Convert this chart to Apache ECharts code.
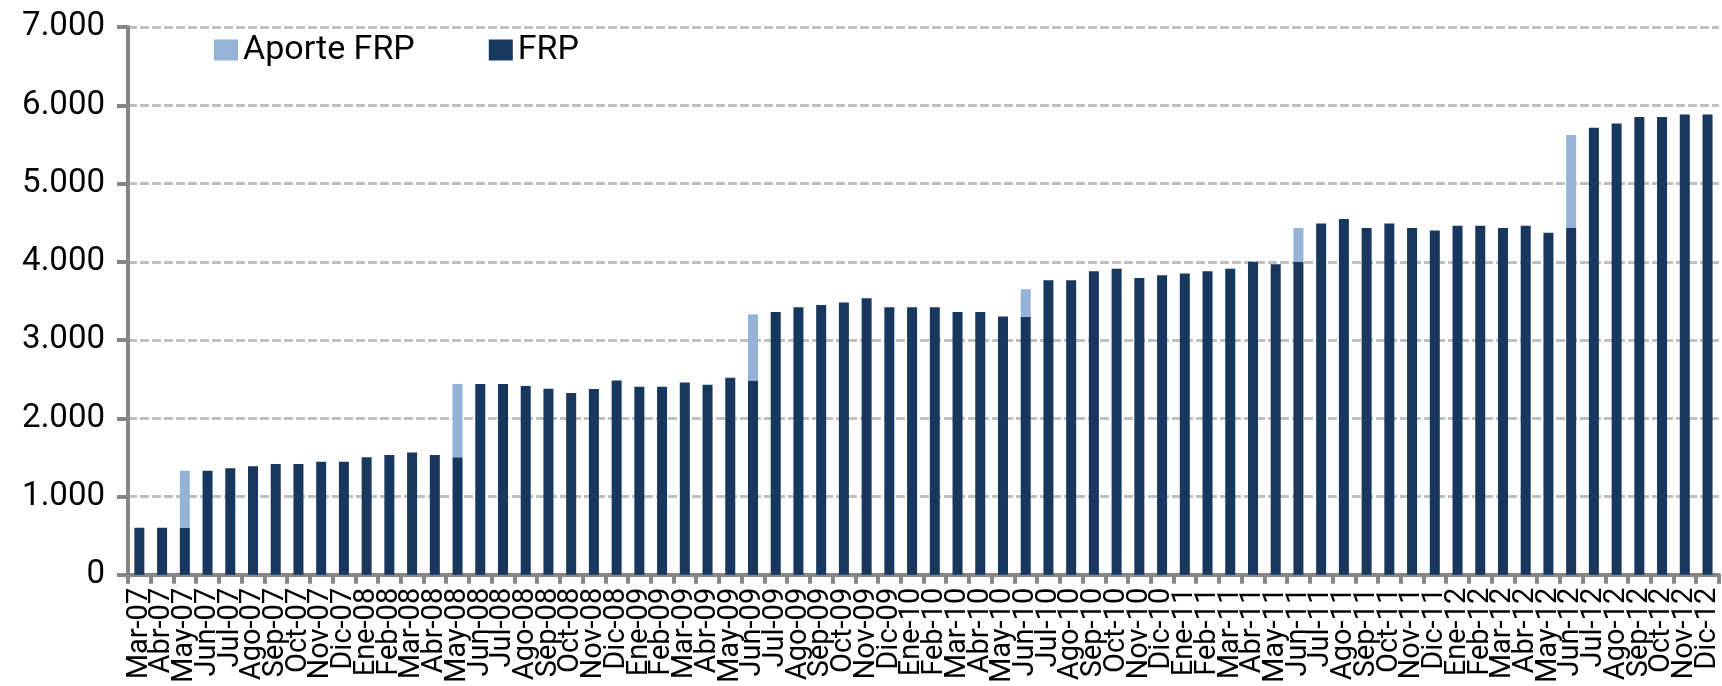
<!DOCTYPE html>
<html>
<head>
<meta charset="utf-8">
<script src="https://cdn.jsdelivr.net/npm/echarts@6/dist/echarts.min.js"></script>
<style>
html,body{margin:0;padding:0;background:#fff;}
#chart{width:1722px;height:686px;}
</style>
</head>
<body>
<div id="chart"></div>
<script>
var categories = [
  'Mar-07','Abr-07','May-07','Jun-07','Jul-07','Ago-07','Sep-07','Oct-07','Nov-07','Dic-07',
  'Ene-08','Feb-08','Mar-08','Abr-08','May-08','Jun-08','Jul-08','Ago-08','Sep-08','Oct-08','Nov-08','Dic-08',
  'Ene-09','Feb-09','Mar-09','Abr-09','May-09','Jun-09','Jul-09','Ago-09','Sep-09','Oct-09','Nov-09','Dic-09',
  'Ene-10','Feb-10','Mar-10','Abr-10','May-10','Jun-10','Jul-10','Ago-10','Sep-10','Oct-10','Nov-10','Dic-10',
  'Ene-11','Feb-11','Mar-11','Abr-11','May-11','Jun-11','Jul-11','Ago-11','Sep-11','Oct-11','Nov-11','Dic-11',
  'Ene-12','Feb-12','Mar-12','Abr-12','May-12','Jun-12','Jul-12','Ago-12','Sep-12','Oct-12','Nov-12','Dic-12'
];
var frp = [
  601, 601, 601, 1330, 1360, 1386, 1416, 1416, 1446, 1446,
  1502, 1532, 1562, 1532, 1502, 2438, 2438, 2412, 2378, 2322, 2375, 2484,
  2403, 2403, 2458, 2428, 2518, 2484, 3358, 3418, 3448, 3478, 3533, 3418,
  3418, 3418, 3358, 3358, 3302, 3298, 3764, 3764, 3880, 3910, 3794, 3829,
  3850, 3880, 3910, 3999, 3969, 3999, 4490, 4545, 4430, 4490, 4430, 4400,
  4460, 4460, 4430, 4460, 4370, 4430, 5711, 5766, 5851, 5851, 5881, 5881
];
var aporte = [
  null, null, 729, null, null, null, null, null, null, null,
  null, null, null, null, 936, null, null, null, null, null, null, null,
  null, null, null, null, null, 844, null, null, null, null, null, null,
  null, null, null, null, null, 351, null, null, null, null, null, null,
  null, null, null, null, null, 431, null, null, null, null, null, null,
  null, null, null, null, null, 1191, null, null, null, null, null, null
];
var yTicks = [0, 1000, 2000, 3000, 4000, 5000, 6000, 7000];

var FONT = 'Roboto';
var chart = echarts.init(document.getElementById('chart'));
chart.setOption({
  animation: false,
  backgroundColor: '#ffffff',
  textStyle: { fontFamily: FONT },
  legend: {
    data: ['Aporte FRP', 'FRP'],
    left: 209, top: 28,
    itemWidth: 24, itemHeight: 21, itemGap: 74,
    icon: 'rect',
    textStyle: { fontFamily: FONT, fontSize: 34, color: '#000' }
  },
  grid: { left: 128, right: 0, top: 27, bottom: 109, containLabel: false },
  xAxis: {
    type: 'category',
    data: categories,
    boundaryGap: true,
    axisLine: { lineStyle: { color: '#868686', width: 4 } },
    axisTick: { show: true, length: 9, lineStyle: { color: '#868686', width: 4 }, interval: 0 },
    axisLabel: { interval: 0, rotate: 90, fontFamily: FONT, fontSize: 29, color: '#000', margin: 13 }
  },
  yAxis: {
    type: 'value',
    min: yTicks[0], max: yTicks[yTicks.length - 1], interval: 1000,
    axisLine: { show: true, lineStyle: { color: '#868686', width: 4 } },
    axisTick: { show: true, length: 11, lineStyle: { color: '#868686', width: 4 } },
    axisLabel: {
      fontFamily: FONT, fontSize: 33, color: '#000', margin: 23,
      formatter: function (v) { return v >= 1000 ? Math.floor(v / 1000) + '.' + ('00' + (v % 1000)).slice(-3) : String(v); }
    },
    splitLine: { show: true, lineStyle: { color: '#c0c0c0', width: 3, type: [9, 3] } }
  },
  series: [
    { name: 'FRP', type: 'bar', stack: 'total', data: frp, barWidth: 10,
      itemStyle: { color: '#17375e' } },
    { name: 'Aporte FRP', type: 'bar', stack: 'total', data: aporte, barWidth: 10,
      itemStyle: { color: '#95b3d7' } }
  ]
});
</script>
</body>
</html>
